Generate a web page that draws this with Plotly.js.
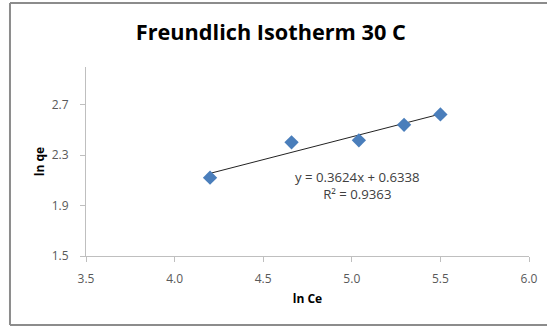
<!DOCTYPE html>
<html>
<head>
<meta charset="utf-8">
<script src="https://cdn.plot.ly/plotly-3.0.1.min.js"></script>
<style>
html,body{margin:0;padding:0;background:#fff;}
#chart{width:547px;height:327px;}
</style>
</head>
<body>
<div id="chart"></div>
<script>
// Data
const lnCe = [4.20, 4.66, 5.04, 5.295, 5.50];
const lnQe = [2.122, 2.402, 2.418, 2.541, 2.624];
// Trendline coefficients as printed on the chart
const slope = 0.3624;
const intercept = 0.6338;
const rSquared = 0.9363;
const xTicks = [3.5, 4.0, 4.5, 5.0, 5.5, 6.0];
const xTickLabels = ['3.5', '4.0', '4.5', '5.0', '5.5', '6.0'];
const yTicks = [1.5, 1.9, 2.3, 2.7];
const yTickLabels = ['1.5', '1.9', '2.3', '2.7'];

const xMin = Math.min(...lnCe), xMax = Math.max(...lnCe);
const trendX = [xMin, xMax];
const trendY = trendX.map(x => slope * x + intercept);

const font = 'Open Sans, Lato, sans-serif';

const traces = [
  {
    x: trendX, y: trendY, type: 'scatter', mode: 'lines',
    line: {color: '#222222', width: 1}, hoverinfo: 'skip', showlegend: false
  },
  {
    x: lnCe, y: lnQe, type: 'scatter', mode: 'markers',
    marker: {symbol: 'diamond', size: 11, color: '#4a7ebb'}, showlegend: false
  }
];

const layout = {
  width: 547, height: 327,
  margin: {l: 86, r: 18, t: 67, b: 71},
  paper_bgcolor: '#ffffff', plot_bgcolor: '#ffffff',
  font: {family: font, size: 12, color: '#595959'},
  title: {
    text: '<b>Freundlich Isotherm 30 C</b>',
    font: {family: font, size: 21.7, color: '#000000'},
    x: 0.495, xanchor: 'center', y: 0.9, yanchor: 'middle', yref: 'container'
  },
  xaxis: {
    range: [3.5, 6.0], tickvals: xTicks, ticktext: xTickLabels,
    showgrid: false, zeroline: false, showline: true, linecolor: '#bfbfbf', linewidth: 1,
    ticks: 'outside', ticklen: 5, tickcolor: '#bfbfbf', ticklabelstandoff: 7,
    tickfont: {family: font, size: 12, color: '#595959'},
    title: {text: '<b>ln Ce</b>', font: {family: font, size: 12, color: '#000000'}, standoff: 8}
  },
  yaxis: {
    range: [1.5, 3.0], tickvals: yTicks, ticktext: yTickLabels,
    showgrid: false, zeroline: false, showline: true, linecolor: '#bfbfbf', linewidth: 1,
    ticks: 'outside', ticklen: 5, tickcolor: '#bfbfbf', ticklabelstandoff: 9,
    tickfont: {family: font, size: 12, color: '#595959'},
    title: {text: '<b>ln qe</b>', font: {family: font, size: 12, color: '#000000'}, standoff: 4}
  },
  annotations: [
    {
      x: 5.03, y: 2.06, xref: 'x', yref: 'y',
      text: 'y = ' + slope.toFixed(4) + 'x + ' + intercept.toFixed(4) + '<br>R² = ' + rSquared.toFixed(4),
      showarrow: false, align: 'center',
      font: {family: font, size: 13.2, color: '#404040'}
    }
  ],
  shapes: [
    {type: 'line', xref: 'paper', yref: 'paper', x0: -0.1716, x1: 1.05, y0: 1.3386, y1: 1.3386,
     line: {color: '#8c8c8c', width: 2}},
    {type: 'line', xref: 'paper', yref: 'paper', x0: -0.1716, x1: 1.05, y0: -0.365, y1: -0.365,
     line: {color: '#8c8c8c', width: 2}},
    {type: 'line', xref: 'paper', yref: 'paper', x0: -0.1716, x1: -0.1716, y0: 1.3386, y1: -0.365,
     line: {color: '#8c8c8c', width: 2}}
  ]
};

Plotly.newPlot('chart', traces, layout, {displayModeBar: false, staticPlot: true});
</script>
</body>
</html>
